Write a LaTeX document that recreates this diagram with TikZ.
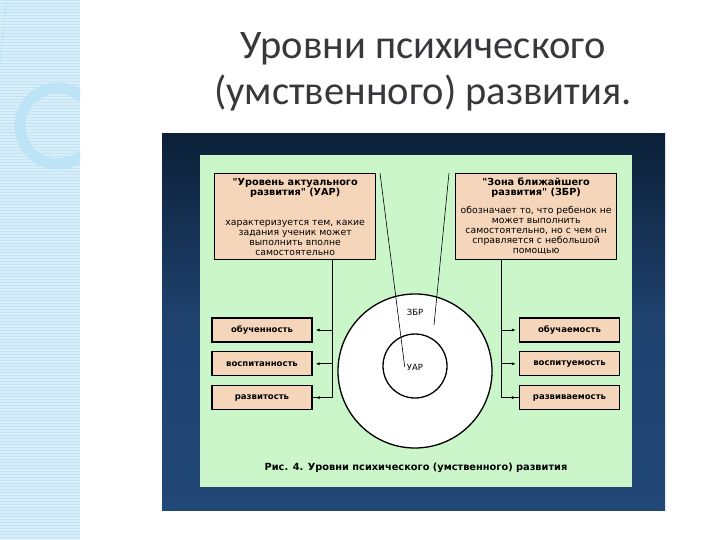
\documentclass[tikz,border=0pt]{standalone}
\usepackage{fontspec}
\setmainfont{DejaVu Sans}[Ligatures=TeXOff]
\newfontfamily\titlefont{Carlito}
\usetikzlibrary{positioning,arrows.meta,calc}
\definecolor{panelgreen}{RGB}{202,246,202}
\definecolor{boxpeach}{RGB}{246,214,186}
\definecolor{navytop}{RGB}{12,32,56}
\definecolor{navybot}{RGB}{34,72,120}
\definecolor{stripblue}{RGB}{216,239,249}
\definecolor{stripline}{RGB}{194,227,243}
\definecolor{striparc}{RGB}{188,227,246}
\definecolor{titlegray}{RGB}{56,56,60}
\newcommand\boxhead[1]{{\fontsize{9.7}{10}\selectfont\bfseries #1}}
\tikzset{
  infobox/.style  = {draw=black, line width=1.3pt, fill=boxpeach, align=center,
                     anchor=north west, minimum width=161pt, minimum height=86pt,
                     font=\fontsize{9.3}{10}\selectfont, inner sep=2pt},
  qualbox/.style  = {draw=black, line width=1.3pt, fill=boxpeach,
                     minimum width=100pt, minimum height=24pt,
                     font=\fontsize{8.5}{10}\selectfont\bfseries, inner sep=2pt},
  zone/.style     = {draw=black, line width=1.3pt, fill=white, circle, inner sep=0pt},
  zonelabel/.style= {font=\fontsize{8.5}{10}\selectfont, inner sep=2pt},
  feed/.style     = {-{Latex[length=4pt,width=3.2pt]}, line width=0.8pt, shorten >=3pt},
  pointer/.style  = {line width=0.6pt},
  spine/.style    = {line width=0.8pt}
}
\begin{document}
\begin{tikzpicture}[x=1pt, y=-1pt, node distance=8.5pt and 0pt]
  \useasboundingbox (0,0) rectangle (720,540);
  \fill[white] (0,0) rectangle (720,540);

  % left decorative strip
  \fill[stripblue] (0,0) rectangle (80,540);
  \foreach \yy in {0,3,...,540} \draw[stripline, line width=0.6pt] (0,\yy) -- (80,\yy);
  \draw[striparc!80!stripline, line width=0.8pt]
    (63,0) arc[start angle=0, end angle=-78, radius=63] -- (0,62);
  \begin{scope}
    \clip (0,0) rectangle (80,540);
    \draw[striparc, line width=11pt] (58,126) circle[radius=38];
  \end{scope}

  % title
  \node[font=\titlefont\fontsize{40.5}{46}\selectfont, text=titlegray, align=center]
    (title) at (423,72) {Уровни психического\\(умственного) развития.};

  % frame and panel
  \shade[top color=navytop, bottom color=navybot, middle color=navybot!85!navytop]
    (162,134) rectangle (665,510);
  \fill[panelgreen] (200,155) rectangle (632,487);

  % top boxes
  \node[infobox] (uar) at (214,173)
    {\boxhead{"Уровень актуального}\\ \boxhead{развития" (УАР)}\\[20pt]
     характеризуется тем, какие\\ задания ученик может\\ выполнить вполне\\ самостоятельно};
  \node[infobox] (zbr) at (455,173)
    {\boxhead{"Зона ближайшего}\\ \boxhead{развития" (ЗБР)}\\[8pt]
     обозначает то, что ребенок не\\ может выполнить\\ самостоятельно, но с чем он\\
     справляется с небольшой\\ помощью};

  % circles
  \node[zone, minimum size=154pt] (outer) at (415,371) {};
  \node[zone, minimum size=64pt]  (inner) at (415,366) {};
  \node[zonelabel] (zbrlbl) at (415,312) {ЗБР};
  \node[zonelabel] (uarlbl) at (415,367) {УАР};

  % left column
  \node[qualbox]                (obuch) at (262,330) {обученность};
  \node[qualbox, below=of obuch] (vospit) {воспитанность};
  \node[qualbox, below=of vospit] (razvit) {развитость};

  % right column
  \node[qualbox]                   (obuchaem) at (569.5,330) {обучаемость};
  \node[qualbox, below=of obuchaem] (vospituem) {воспитуемость};
  \node[qualbox, below=of vospituem] (razvivaem) {развиваемость};

  % feeds
  \coordinate (lspine) at (332,259);
  \coordinate (rspine) at (501,259);
  \draw[spine] (lspine) |- (razvit.east);
  \draw[spine] (rspine) |- (razvivaem.west);
  \foreach \q in {obuch, vospit, razvit}
    \draw[feed] (lspine |- \q.east) -- (\q.east);
  \foreach \q in {obuchaem, vospituem, razvivaem}
    \draw[feed] (rspine |- \q.west) -- (\q.west);

  % pointers
  \coordinate (uarhook) at (380,173);
  \coordinate (zbrhook) at (449,173);
  \coordinate (zbrtip)  at (434,325);
  \draw[pointer] (uarhook) -- (uarlbl.west);
  \draw[pointer] (zbrhook) -- (zbrtip);

  % caption
  \node[font=\fontsize{9.8}{10}\selectfont\bfseries] (caption) at (416,468)
    {Рис. 4. Уровни психического (умственного) развития};
\end{tikzpicture}
\end{document}
